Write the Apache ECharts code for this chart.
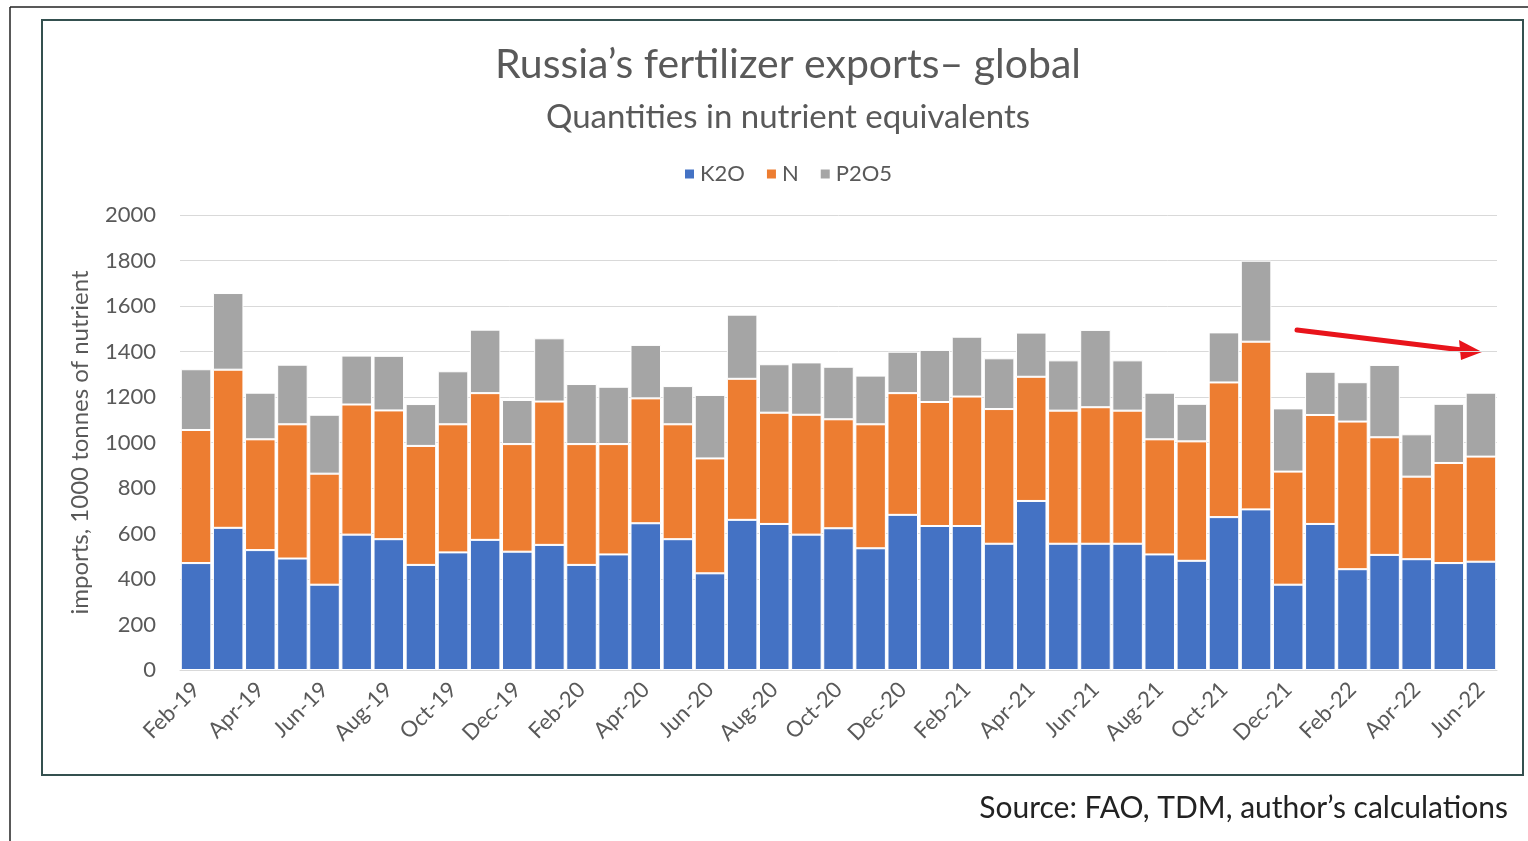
<!DOCTYPE html>
<html>
<head>
<meta charset="utf-8">
<script src="https://cdn.jsdelivr.net/npm/echarts@6/dist/echarts.min.js"></script>
<style>
  html, body { margin: 0; padding: 0; background: #fff; }
  #chart { width: 1528px; height: 841px; }
</style>
</head>
<body>
<div id="chart"></div>
<script>
var months = [
  "Feb-19", "Mar-19", "Apr-19", "May-19", "Jun-19", "Jul-19", "Aug-19", "Sep-19", "Oct-19", "Nov-19", "Dec-19",
  "Jan-20", "Feb-20", "Mar-20", "Apr-20", "May-20", "Jun-20", "Jul-20", "Aug-20", "Sep-20", "Oct-20", "Nov-20", "Dec-20",
  "Jan-21", "Feb-21", "Mar-21", "Apr-21", "May-21", "Jun-21", "Jul-21", "Aug-21", "Sep-21", "Oct-21", "Nov-21", "Dec-21",
  "Jan-22", "Feb-22", "Mar-22", "Apr-22", "May-22", "Jun-22"
];

var k2o = [
  470, 625, 527, 490, 375, 595, 575, 462, 517, 572, 520,
  550, 462, 508, 645, 575, 425, 660, 642, 595, 623, 535, 682,
  633, 633, 555, 743, 555, 555, 555, 508, 480, 672, 706, 375,
  642, 443, 506, 487, 470, 476
];

var n = [
  585, 695, 487, 590, 488, 572, 566, 523, 563, 645, 473,
  630, 531, 485, 549, 505, 505, 620, 489, 527, 479, 545, 535,
  545, 569, 592, 546, 585, 600, 585, 506, 525, 592, 737, 497,
  479, 649, 517, 363, 440, 462
];

var p2o5 = [
  267, 337, 205, 262, 259, 215, 240, 184, 233, 279, 194,
  278, 264, 252, 235, 168, 279, 282, 213, 230, 231, 214, 182,
  229, 263, 223, 194, 221, 340, 221, 205, 165, 220, 356, 278,
  190, 173, 318, 186, 260, 281
];

var yTicks = [0, 200, 400, 600, 800, 1000, 1200, 1400, 1600, 1800, 2000];

var font = "Lato, 'Open Sans', sans-serif";
var textGrey = "#595959";

var chart = echarts.init(document.getElementById("chart"));

function barSeries(name, data, color) {
  return {
    name: name,
    type: "bar",
    stack: "total",
    barCategoryGap: "5%",
    data: data,
    itemStyle: {
      color: color,
      borderColor: "#fff",
      borderWidth: 1,
    },
  };
}

var option = {
  animation: false,
  backgroundColor: "#fff",
  textStyle: { fontFamily: font },
  title: [
    {
      text: "Russia\u2019s fertilizer exports\u2013 global",
      left: 783,
      top: 39,
      textAlign: "center",
      textStyle: { fontFamily: font, fontSize: 41, fontWeight: "normal", color: textGrey },
    },
    {
      text: "Quantities in nutrient equivalents",
      left: 783,
      top: 96,
      textAlign: "center",
      textStyle: { fontFamily: font, fontSize: 33, fontWeight: "normal", color: textGrey },
    },
  ],
  legend: {
    data: ["K2O", "N", "P2O5"],
    top: 158,
    left: 678,
    icon: "rect",
    itemWidth: 11,
    itemHeight: 11,
    itemGap: 20,
    textStyle: { fontFamily: font, fontSize: 22, color: textGrey },
  },
  grid: {
    left: 180,
    right: 31,
    top: 215,
    bottom: 171,
  },
  xAxis: {
    type: "category",
    data: months,
    axisLine: { show: true, lineStyle: { color: "#d9d9d9" } },
    axisTick: { show: false },
    axisLabel: {
      interval: 1,
      rotate: 45,
      margin: 16,
      fontFamily: font,
      fontSize: 22,
      color: textGrey,
    },
  },
  yAxis: {
    type: "value",
    min: yTicks[0],
    max: yTicks[yTicks.length - 1],
    interval: 200,
    name: "imports, 1000 tonnes of nutrient",
    nameLocation: "middle",
    nameGap: 88,
    nameTextStyle: { fontFamily: font, fontSize: 24, color: textGrey },
    axisLine: { show: false },
    axisTick: { show: false },
    axisLabel: {
      margin: 24,
      fontFamily: font,
      fontSize: 22,
      color: textGrey,
      formatter: function (v) { return String(v); },
    },
    splitLine: { lineStyle: { color: "#d9d9d9", width: 1 } },
  },
  series: [
    barSeries("K2O", k2o, "#4472C4"),
    barSeries("N", n, "#ED7D31"),
    barSeries("P2O5", p2o5, "#A5A5A5"),
  ],
  graphic: [
    // outer picture edges
    { type: "line", shape: { x1: 10, y1: 7, x2: 1528, y2: 7 }, style: { stroke: "#222", lineWidth: 1.5 } },
    { type: "line", shape: { x1: 10, y1: 7, x2: 10, y2: 841 }, style: { stroke: "#222", lineWidth: 1.5 } },
    // chart frame
    {
      type: "rect",
      shape: { x: 42, y: 20, width: 1481, height: 755 },
      style: { fill: "none", stroke: "#34504f", lineWidth: 2 },
    },
    // red trend arrow
    {
      type: "line",
      shape: { x1: 1297, y1: 330, x2: 1462, y2: 350 },
      style: { stroke: "#e8141b", lineWidth: 5, lineCap: "round" },
    },
    {
      type: "polygon",
      shape: { points: [[1482, 352], [1459, 340], [1461, 360]] },
      style: { fill: "#e8141b" },
    },
    {
      type: "text",
      right: 20,
      top: 793,
      style: {
        text: "Source: FAO, TDM, author\u2019s calculations",
        fontFamily: font,
        fontSize: 30,
        fill: "#222",
      },
    },
  ],
};

chart.setOption(option);
</script>
</body>
</html>
